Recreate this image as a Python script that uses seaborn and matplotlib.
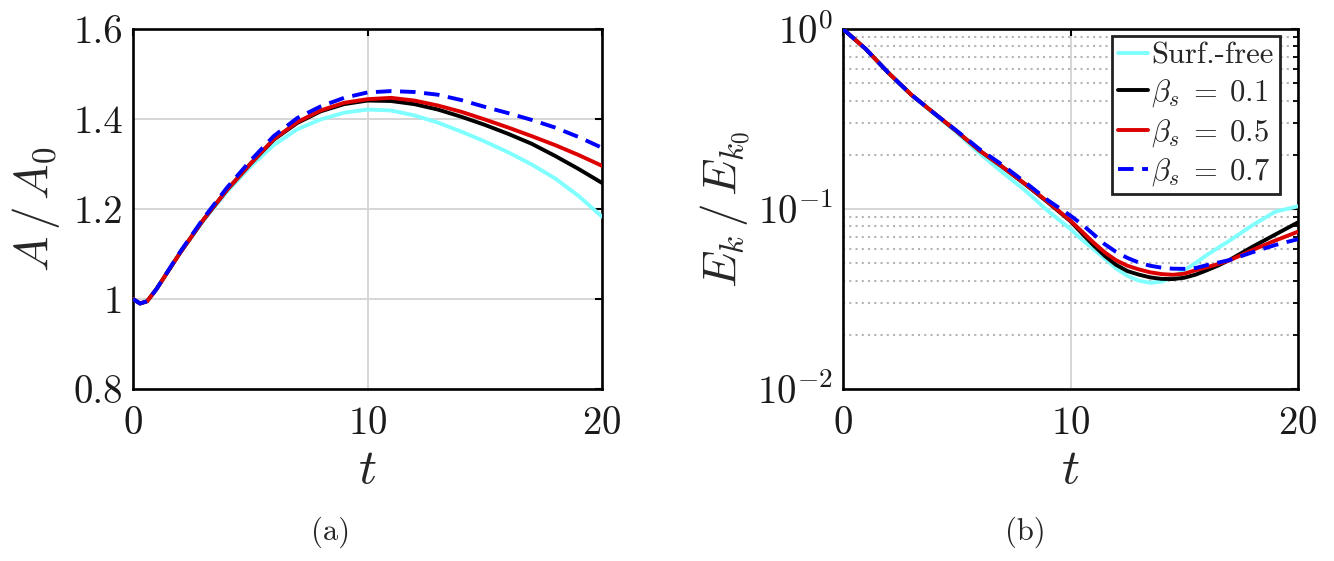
import numpy as np
import pandas as pd
import matplotlib
matplotlib.use("Agg")
import matplotlib.pyplot as plt
import seaborn as sns
from matplotlib.ticker import FixedLocator, FixedFormatter, LogLocator, NullLocator

# ---- data ----
# (a) area ratio A/A0
t_a = [0, 0.3, 0.6, 1, 1.5, 2, 3, 4, 5, 6, 7, 8, 9, 10, 11, 12, 13, 14, 15, 16, 17, 18, 19, 20]
a_free = [1.0, 0.99, 0.995, 1.022, 1.062, 1.102, 1.174, 1.238, 1.294, 1.342, 1.377, 1.399, 1.414, 1.421,
          1.419, 1.408, 1.392, 1.372, 1.350, 1.326, 1.299, 1.268, 1.229, 1.183]
a_b01 = [1.0, 0.99, 0.995, 1.022, 1.062, 1.102, 1.176, 1.242, 1.30, 1.354, 1.391, 1.417, 1.433, 1.441,
         1.440, 1.433, 1.421, 1.405, 1.387, 1.367, 1.345, 1.318, 1.289, 1.258]
a_b05 = [1.0, 0.99, 0.995, 1.022, 1.062, 1.102, 1.176, 1.242, 1.30, 1.355, 1.393, 1.419, 1.436, 1.444,
         1.447, 1.441, 1.430, 1.416, 1.399, 1.381, 1.362, 1.342, 1.32, 1.296]
a_b07 = [1.0, 0.99, 0.995, 1.022, 1.063, 1.104, 1.179, 1.247, 1.307, 1.362, 1.402, 1.428, 1.447, 1.459,
         1.462, 1.460, 1.454, 1.442, 1.427, 1.413, 1.398, 1.381, 1.36, 1.336]

# (b) kinetic energy Ek/Ek0
t_e = [0, 1, 2, 3, 4, 5, 6, 7, 8, 9, 10, 10.5, 11, 11.5, 12, 12.5, 13, 13.5, 14, 14.5, 15,
       15.5, 16, 16.5, 17, 18, 19, 20]
e_free = [1.0, 0.774, 0.570, 0.430, 0.338, 0.266, 0.204, 0.160, 0.127, 0.0977, 0.0774, 0.0676, 0.060,
          0.0531, 0.0468, 0.0425, 0.040, 0.0389, 0.0395, 0.0417, 0.0457, 0.0501, 0.0556, 0.061, 0.0668,
          0.0813, 0.0966, 0.1035]
e_b01 = [1.0, 0.774, 0.570, 0.4315, 0.341, 0.270, 0.2113, 0.1715, 0.1375, 0.109, 0.0855, 0.0733, 0.0631,
         0.055, 0.049, 0.0452, 0.0432, 0.0417, 0.0409, 0.0408, 0.0415, 0.0432, 0.0457, 0.0486, 0.0522,
         0.0617, 0.0721, 0.0843]
e_b05 = [1.0, 0.774, 0.570, 0.4315, 0.341, 0.270, 0.2113, 0.1718, 0.138, 0.1096, 0.0861, 0.075, 0.0653,
         0.0575, 0.0519, 0.0484, 0.0462, 0.0445, 0.0435, 0.0431, 0.0437, 0.0457, 0.0475, 0.0495, 0.0519,
         0.0592, 0.0668, 0.0748]
e_b07 = [1.0, 0.774, 0.570, 0.4315, 0.341, 0.272, 0.215, 0.176, 0.141, 0.112, 0.0918, 0.0822, 0.0726,
         0.0638, 0.0578, 0.0535, 0.0504, 0.0484, 0.0472, 0.0466, 0.0465, 0.047, 0.0488, 0.0504, 0.0521,
         0.0575, 0.0631, 0.068]

labels = ['Surf.-free', r'$\beta_s\;=\;0.1$', r'$\beta_s\;=\;0.5$', r'$\beta_s\;=\;0.7$']
colors = ['#80ffff', '#000000', '#dd0000', '#0000ff']
styles = ['-', '-', '-', (0, (4, 2.2))]

xticks = [0, 10, 20]
yticks_a = [0.8, 1.0, 1.2, 1.4, 1.6]
yticklabels_a = ['0.8', '1', '1.2', '1.4', '1.6']

# ---- style ----
sns.set_theme(style='white')
plt.rcParams['font.family'] = ['cmr10', 'DejaVu Serif']
plt.rcParams['mathtext.fontset'] = 'cm'
plt.rcParams['axes.formatter.use_mathtext'] = True
plt.rcParams['axes.unicode_minus'] = True

fig = plt.figure(figsize=(13.34, 5.61), dpi=100)
ax1 = fig.add_axes([133 / 1334, 1 - 389 / 561, 469 / 1334, 360 / 561])
ax2 = fig.add_axes([843 / 1334, 1 - 389 / 561, 455 / 1334, 360 / 561])

def draw(ax, t, series):
    for y, lab, c, ls in zip(series, labels, colors, styles):
        sns.lineplot(x=t, y=y, ax=ax, color=c, lw=2.8, linestyle=ls, label=lab,
                     estimator=None, sort=False, zorder=3)

draw(ax1, t_a, [a_free, a_b01, a_b05, a_b07])
draw(ax2, t_e, [e_free, e_b01, e_b05, e_b07])

for ax in (ax1, ax2):
    ax.set_xlim(0, 20)
    ax.xaxis.set_major_locator(FixedLocator(xticks))
    ax.xaxis.set_minor_locator(NullLocator())
    for s in ax.spines.values():
        s.set_color('black')
        s.set_linewidth(1.9)
    ax.tick_params(which='both', direction='in', top=True, right=True, color='black',
                   labelsize=28, labelcolor='#1a1a1a')
    ax.tick_params(which='major', length=5, width=1.5)
    ax.tick_params(axis='x', pad=12)
    ax.tick_params(axis='y', pad=7)
    ax.grid(True, which='major', color='#d6d6d6', lw=1.4, ls='-', zorder=0)
    ax.set_xlabel(r'$t$', fontsize=36, labelpad=4)

ax1.set_ylim(0.8, 1.6)
ax1.yaxis.set_major_locator(FixedLocator(yticks_a))
ax1.yaxis.set_major_formatter(FixedFormatter(yticklabels_a))
ax1.set_ylabel(r'$A\,/\,A_0$', fontsize=34, labelpad=8)
ax1.get_legend().remove()

ax2.set_yscale('log')
ax2.set_ylim(0.01, 1)
ax2.yaxis.set_major_locator(LogLocator(base=10, numticks=5))
ax2.yaxis.set_minor_locator(LogLocator(base=10, subs=np.arange(2, 10), numticks=10))
ax2.yaxis.grid(True, which='minor', color='#b4b4b4', lw=1.5, ls=(0, (1, 2)), zorder=0)
ax2.tick_params(which='minor', length=3.5, width=1.3)
ax2.set_ylabel(r'$E_k\,/\,E_{k_0}$', fontsize=34, labelpad=4)

leg = ax2.legend(loc='upper right', bbox_to_anchor=(0.96, 0.98), fontsize=22, frameon=True,
                 fancybox=False, framealpha=1, edgecolor='#222222', handlelength=1.0,
                 handletextpad=0.1, labelspacing=0.25, borderpad=0.2, borderaxespad=0.0)
leg.get_frame().set_linewidth(2)

fig.text(331 / 1334, 1 - 532 / 561, '(a)', fontsize=22, ha='center', va='center')
fig.text(1025 / 1334, 1 - 532 / 561, '(b)', fontsize=22, ha='center', va='center')

fig.savefig('out.png', dpi=100, facecolor='white')
